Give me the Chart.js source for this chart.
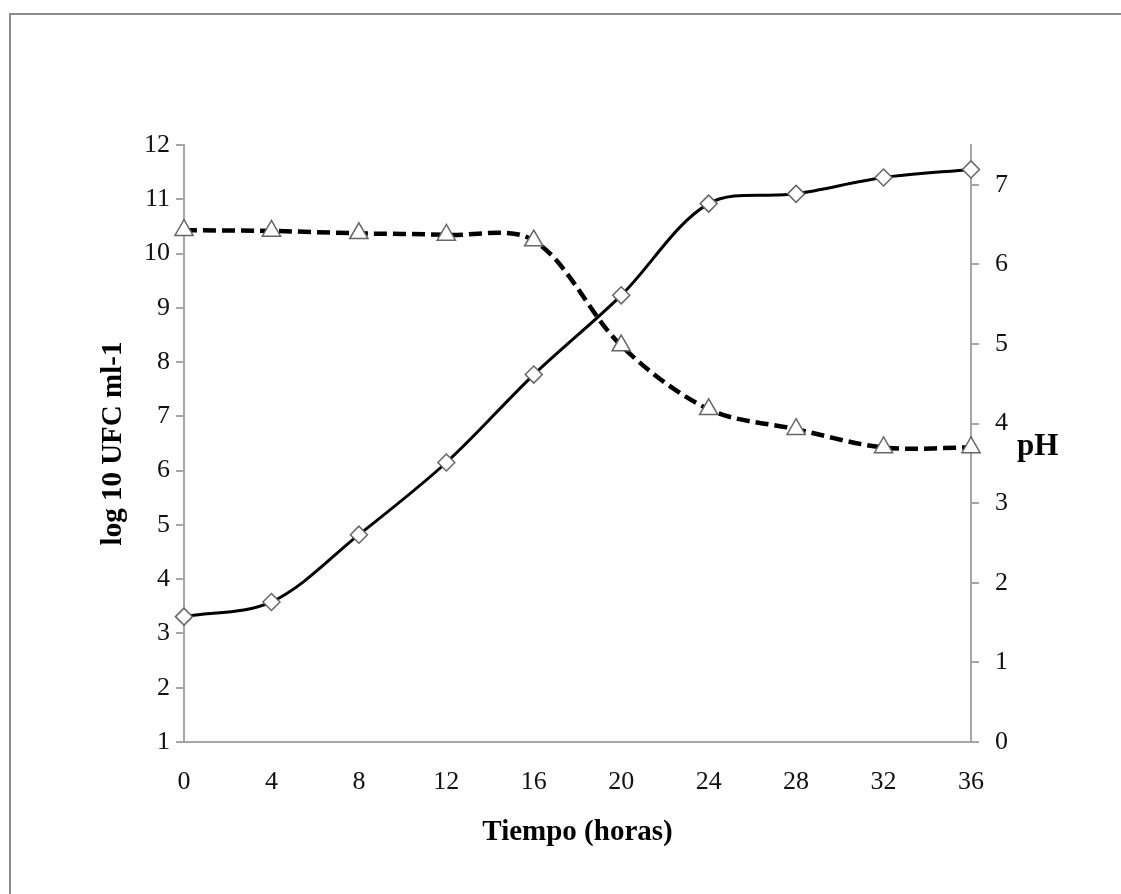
<!DOCTYPE html>
<html>
<head>
<meta charset="utf-8">
<script src="https://cdn.jsdelivr.net/npm/chart.js@4.4.1/dist/chart.umd.min.js"></script>
<style>
  body { margin: 0; background: #fff; }
  #wrap { position: relative; width: 1121px; height: 894px; }
  #frame { position: absolute; left: 9px; top: 13px; right: 0; bottom: 0;
           border-top: 2px solid #8c8c8c; border-left: 2px solid #8c8c8c; }
  canvas { position: absolute; left: 0; top: 0; }
</style>
</head>
<body>
<div id="wrap">
  <div id="frame"></div>
  <canvas id="chart" width="1121" height="894"></canvas>
</div>
<script>
// Crecimiento (log10 UFC/ml) y pH frente al tiempo

const hours = [0, 4, 8, 12, 16, 20, 24, 28, 32, 36];
const ufc = [3.31, 3.58, 4.82, 6.15, 7.77, 9.23, 10.92, 11.1, 11.4, 11.55];
const ph = [6.43, 6.42, 6.39, 6.37, 6.3, 4.98, 4.18, 3.93, 3.7, 3.7];

const axisColor = '#a6a6a6';
const serif = "'Liberation Serif', 'Times New Roman', serif";

// "pH" label drawn horizontally next to the right axis
const phLabel = {
  id: 'phLabel',
  afterDraw(chart) {
    const { ctx, chartArea } = chart;
    ctx.save();
    ctx.font = `bold 31px ${serif}`;
    ctx.fillStyle = '#000';
    ctx.textBaseline = 'middle';
    ctx.textAlign = 'left';
    ctx.fillText('pH', chartArea.right + 46, (chartArea.top + chartArea.bottom) / 2 + 3);
    ctx.restore();
  }
};

new Chart(document.getElementById('chart'), {
  type: 'line',
  data: {
    datasets: [
      {
        label: 'log 10 UFC ml-1',
        data: hours.map((h, i) => ({ x: h, y: ufc[i] })),
        yAxisID: 'y',
        borderColor: '#000',
        borderWidth: 3,
        tension: 0.33,
        pointStyle: 'rectRot',
        pointRadius: 8.5,
        pointBackgroundColor: '#fff',
        pointBorderColor: '#666',
        pointBorderWidth: 1.5,
        clip: false
      },
      {
        label: 'pH',
        data: hours.map((h, i) => ({ x: h, y: ph[i] })),
        yAxisID: 'y1',
        borderColor: '#000',
        borderWidth: 4.5,
        borderDash: [13, 6],
        tension: 0.33,
        pointStyle: 'triangle',
        pointRadius: 10.5,
        pointBackgroundColor: '#fff',
        pointBorderColor: '#666',
        pointBorderWidth: 1.5,
        clip: false
      }
    ]
  },
  options: {
    responsive: false,
    animation: false,
    layout: { padding: { left: 92, top: 145, right: 0, bottom: 0 } },
    plugins: {
      legend: { display: false },
      tooltip: { enabled: false }
    },
    scales: {
      x: {
        type: 'linear',
        min: 0,
        max: 36,
        afterFit: s => { s.height = 152; },
        ticks: {
          stepSize: 4,
          padding: 25,
          color: '#111',
          font: { family: serif, size: 26 },
          maxRotation: 0
        },
        grid: { drawOnChartArea: false, drawTicks: false },
        border: { color: axisColor, width: 2 },
        title: {
          display: true,
          text: 'Tiempo (horas)',
          color: '#000',
          font: { family: serif, size: 29, weight: 'bold' },
          padding: { top: 0, bottom: 44 }
        }
      },
      y: {
        position: 'left',
        min: 1,
        max: 12,
        afterFit: s => { s.width = 92; },
        ticks: {
          stepSize: 1,
          padding: 6,
          color: '#111',
          font: { family: serif, size: 26 }
        },
        grid: { drawOnChartArea: false, tickLength: 8, color: axisColor, lineWidth: 2 },
        border: { color: axisColor, width: 2 },
        title: {
          display: true,
          text: 'log 10 UFC ml-1',
          color: '#000',
          font: { family: serif, size: 29, weight: 'bold' },
          padding: { top: 4, bottom: 0 }
        }
      },
      y1: {
        position: 'right',
        min: 0,
        max: 7.5,
        afterFit: s => { s.width = 150; },
        afterBuildTicks: s => { s.ticks = s.ticks.filter(t => Number.isInteger(t.value)); },
        ticks: {
          stepSize: 1,
          padding: 16,
          color: '#111',
          font: { family: serif, size: 26 }
        },
        grid: { drawOnChartArea: false, tickLength: 8, color: axisColor, lineWidth: 2 },
        border: { color: axisColor, width: 2 }
      }
    }
  },
  plugins: [phLabel]
});
</script>
</body>
</html>
